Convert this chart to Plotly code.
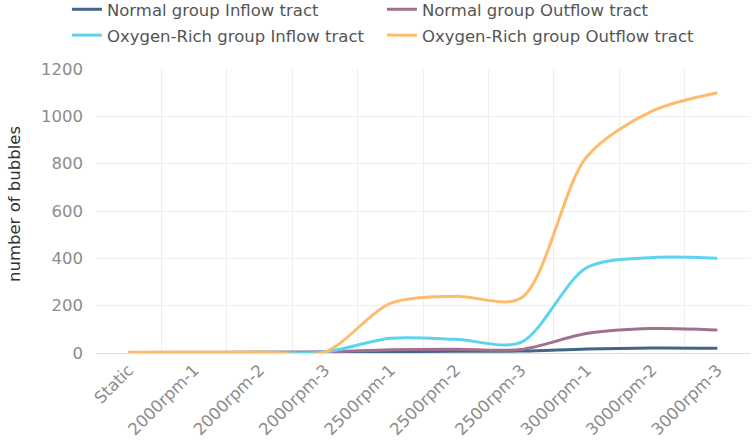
import plotly.graph_objects as go

categories = ["Static", "2000rpm-1", "2000rpm-2", "2000rpm-3", "2500rpm-1",
              "2500rpm-2", "2500rpm-3", "3000rpm-1", "3000rpm-2", "3000rpm-3"]
normal_inflow = [2, 2, 3, 4, 6, 7, 8, 17, 21, 20]
normal_outflow = [2, 3, 3, 4, 14, 16, 15, 82, 103, 97]
oxy_inflow = [2, 2, 3, 4, 62, 58, 45, 360, 403, 400]
oxy_outflow = [3, 3, 4, 4, 210, 240, 232, 828, 1022, 1100]

series = [
    ("Normal group Inflow tract", normal_inflow, "#43658a", "legend"),
    ("Normal group Outflow tract", normal_outflow, "#a0708f", "legend"),
    ("Oxygen-Rich group Inflow tract", oxy_inflow, "#5dd3f0", "legend2"),
    ("Oxygen-Rich group Outflow tract", oxy_outflow, "#ffbb6c", "legend2"),
]

FONT = "DejaVu Sans"

fig = go.Figure()
for name, vals, color, lg in series:
    fig.add_trace(go.Scatter(
        x=categories, y=vals, name=name, mode="lines",
        line=dict(color=color, width=3, shape="spline", smoothing=0.85),
        legend=lg,
    ))

legend_common = dict(
    orientation="h", xref="container", yref="paper",
    xanchor="left", yanchor="top", entrywidth=270, entrywidthmode="pixels",
    font=dict(family=FONT, size=16.5, color="#555555"),
    bgcolor="rgba(0,0,0,0)", itemwidth=30,
)

fig.update_layout(
    width=752, height=446,
    margin=dict(l=96, r=2, t=69, b=93, autoexpand=False),
    paper_bgcolor="white", plot_bgcolor="white",
    font=dict(family=FONT, size=15, color="#888888"),
    showlegend=True,
    legend=dict(x=0.089, y=1.271, **legend_common),
    legend2=dict(x=0.089, y=1.18, **legend_common),
    xaxis=dict(
        type="category", tickson="boundaries", range=[-0.5, 9.5],
        showgrid=True, gridcolor="#eeeeee", gridwidth=1,
        showline=True, linecolor="#dddddd", linewidth=1,
        ticks="", tickangle=-45, tickfont=dict(size=16.5, color="#8c8c8c"),
        zeroline=False,
    ),
    yaxis=dict(
        range=[0, 1200], dtick=200, tick0=0,
        showgrid=True, gridcolor="#eeeeee", gridwidth=1,
        showline=False, zeroline=False,
        ticks="", ticklabelstandoff=12,
        tickfont=dict(size=16.5, color="#8c8c8c"),
    ),
    annotations=[dict(
        text="number of bubbles", textangle=-90, showarrow=False,
        xref="paper", yref="paper", x=(14 - 96) / 654, y=(353 - 204) / 284,
        xanchor="center", yanchor="middle",
        font=dict(family=FONT, size=16.5, color="#333333"),
    )],
)

fig.write_html("out.html")
